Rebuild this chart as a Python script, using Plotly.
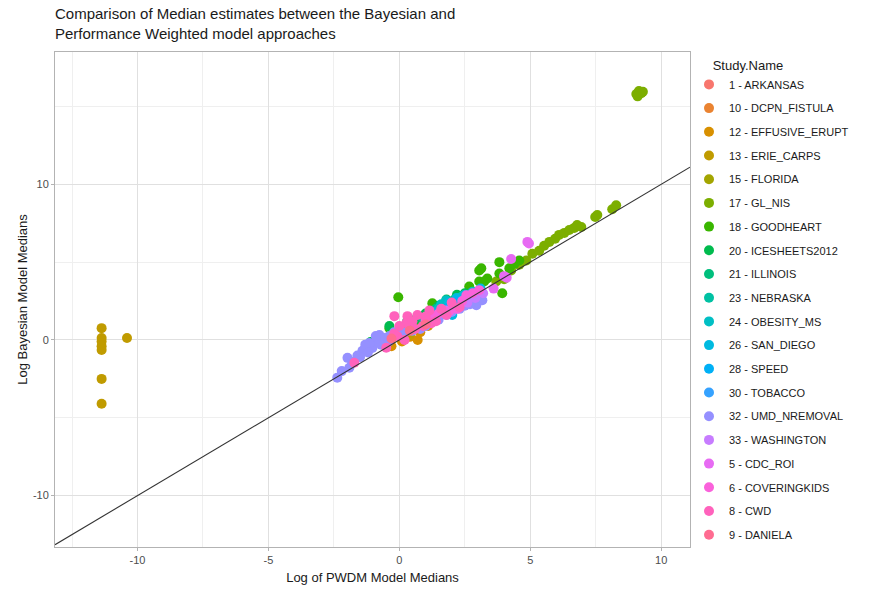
import plotly.graph_objects as go

# ---- data -----------------------------------------------------------------
studies = ["1 - ARKANSAS", "10 - DCPN_FISTULA", "12 - EFFUSIVE_ERUPT", "13 - ERIE_CARPS",
           "15 - FLORIDA", "17 - GL_NIS", "18 - GOODHEART", "20 - ICESHEETS2012",
           "21 - ILLINOIS", "23 - NEBRASKA", "24 - OBESITY_MS", "26 - SAN_DIEGO",
           "28 - SPEED", "30 - TOBACCO", "32 - UMD_NREMOVAL", "33 - WASHINGTON",
           "5 - CDC_ROI", "6 - COVERINGKIDS", "8 - CWD", "9 - DANIELA"]

colors = ["#F8766D", "#EA8331", "#D89000", "#C09B00", "#A3A500", "#7CAE00", "#39B600",
          "#00BB4E", "#00BF7D", "#00C1A3", "#00BFC4", "#00BAE0", "#00B0F6", "#35A2FF",
          "#9590FF", "#C77CFF", "#E76BF3", "#FA62DB", "#FF62BC", "#FF6C91"]

pwdm_x = {
    "1 - ARKANSAS": [0.9, 1.2, 0.5, 1.6, 2.0],
    "10 - DCPN_FISTULA": [0.6, 1.0, 0.3, 1.4],
    "12 - EFFUSIVE_ERUPT": [0.1, 0.4, 0.8, 0.0, 0.5, 1.1, -0.3, 0.2, 0.7],
    "13 - ERIE_CARPS": [-11.37, -11.37, -11.37, -11.37, -11.37, -11.37, -11.37, -10.4, 0.0, 0.4, -0.3],
    "15 - FLORIDA": [0.3, 0.8, 1.3],
    "17 - GL_NIS": [3.7, 4.0, 4.27, 4.58, 4.85, 5.08, 5.34, 5.53, 5.73, 5.95, 6.1, 6.3, 6.49,
                    6.68, 6.79, 6.95, 7.48, 7.56, 8.13, 8.28, 9.05, 9.15, 9.24, 9.1, 9.3],
    "18 - GOODHEART": [-0.04, 3.93, -0.38, -1.07, 3.13, 3.82, 3.36, 4.58, 1.26, 2.67, 3.05,
                       3.24, 3.05, 3.82, 4.2, 4.4],
    "20 - ICESHEETS2012": [-1.1, -0.38, 0.6, 1.5, 2.2, 1.0, 1.8, 2.5, 0.3],
    "21 - ILLINOIS": [0.9, 1.8, 2.4, 1.4, 2.1],
    "23 - NEBRASKA": [2.3, 1.7, 1.2],
    "24 - OBESITY_MS": [1.79, 2.0, 2.4, 1.5, 2.2, 1.6, 2.8],
    "26 - SAN_DIEGO": [2.18, 2.4, 2.02, 2.7, 1.6, 2.9, 1.3, 1.9, 2.5, 3.1],
    "28 - SPEED": [2.6, 1.9, 2.2, 3.0],
    "30 - TOBACCO": [1.3, 1.7, 2.5],
    "32 - UMD_NREMOVAL": [-2.37, -1.98, -1.91, -1.41, -1.03, -0.76, -0.57, -0.88, -0.38, -1.15,
                          -0.6, -0.2, 0.2, 1.5, 2.0, 2.5, 2.94, 3.17, 1.0, -1.6, -0.9, -1.3,
                          -2.2, -1.8, -1.5, -1.2, -0.7, -0.4, 0.0, 0.5, 0.8, 1.2, 1.8, 2.3, 2.7],
    "33 - WASHINGTON": [2.9, 3.2, 2.6, 1.8],
    "5 - CDC_ROI": [4.89, 4.95, 4.27, 4.0, 4.1, 3.6],
    "6 - COVERINGKIDS": [1.91, 2.56, 3.05, 1.5, 1.0, 2.2, 2.8, 2.4, 1.2],
    "8 - CWD": [-1.72, -0.19, 0.31, -0.08, 0.69, 1.15, 1.22, 0.27, 0.6, 1.4, 0.9, 1.8, 2.3, -0.5,
                0.0, 0.5, 1.0, 1.6, 2.0, 0.2, -0.2],
    "9 - DANIELA": [0.4, 1.0, -0.3],
}

bayes_y = {
    "1 - ARKANSAS": [1.3, 1.6, 0.8, 2.0, 2.2],
    "10 - DCPN_FISTULA": [0.7, 1.1, 0.5, 1.5],
    "12 - EFFUSIVE_ERUPT": [-0.1, 0.2, 0.5, 0.5, 0.9, 0.9, -0.4, 0.4, 0.0],
    "13 - ERIE_CARPS": [0.76, 0.13, -0.1, -0.4, -0.64, -2.5, -4.1, 0.13, 0.6, 0.3, 0.1],
    "15 - FLORIDA": [0.9, 1.2, 1.8],
    "17 - GL_NIS": [3.76, 3.9, 4.46, 4.84, 5.1, 5.54, 5.73, 6.05, 6.3, 6.5, 6.75, 6.88, 7.07,
                    7.2, 7.39, 7.26, 7.9, 8.03, 8.4, 8.66, 15.8, 16.0, 15.85, 15.65, 15.95],
    "18 - GOODHEART": [2.74, 3.0, 0.76, -0.19, 4.6, 5.0, 3.95, 5.1, 2.36, 3.44, 3.76,
                       3.76, 4.46, 4.27, 4.6, 4.9],
    "20 - ICESHEETS2012": [-0.13, 0.89, 1.3, 2.2, 2.9, 1.7, 2.6, 3.0, 1.2],
    "21 - ILLINOIS": [1.4, 2.3, 2.6, 2.0, 2.6],
    "23 - NEBRASKA": [2.1, 1.8, 1.5],
    "24 - OBESITY_MS": [2.55, 2.3, 2.8, 2.0, 2.7, 2.3, 3.1],
    "26 - SAN_DIEGO": [2.68, 2.23, 1.6, 2.9, 1.9, 3.0, 1.8, 2.4, 2.9, 3.3],
    "28 - SPEED": [2.7, 2.1, 2.5, 3.1],
    "30 - TOBACCO": [1.5, 1.7, 2.6],
    "32 - UMD_NREMOVAL": [-2.42, -1.15, -1.78, -0.7, -0.51, 0.32, 0.13, -0.06, 0.25, -0.19,
                          -0.2, 0.5, 0.5, 1.3, 1.8, 2.2, 2.23, 2.55, 0.9, -1.0, 0.25, -0.3,
                          -2.0, -1.4, -1.1, -0.8, -0.3, -0.1, 0.3, 0.6, 0.7, 1.1, 1.6, 2.0, 2.3],
    "33 - WASHINGTON": [2.7, 3.0, 2.4, 1.9],
    "5 - CDC_ROI": [6.3, 6.2, 5.2, 4.1, 4.0, 3.3],
    "6 - COVERINGKIDS": [1.85, 2.87, 3.2, 1.7, 1.3, 2.0, 3.0, 2.5, 1.5],
    "8 - CWD": [-1.46, 1.53, 1.53, 0.25, 1.6, 1.9, 1.08, 1.08, 0.7, 1.2, 0.9, 1.6, 2.1, -0.5,
                0.9, 1.2, 1.5, 2.0, 2.4, 0.0, 0.4],
    "9 - DANIELA": [0.6, 1.0, 0.1],
}

x_ticks = [-10, -5, 0, 5, 10]
y_ticks = [-10, 0, 10]
abline_intercept = 0.0
abline_slope = 1.0
x_range = [-13.15, 11.1]
y_range = [-13.3, 18.5]

title_text = ("Comparison of Median estimates between the Bayesian and<br>"
              "Performance Weighted model approaches")

# ---- figure ---------------------------------------------------------------
fig = go.Figure()

for name, col in zip(studies, colors):
    fig.add_trace(go.Scatter(
        x=pwdm_x[name], y=bayes_y[name], mode="markers", name=name,
        legendgroup=name,
        marker=dict(color=col, size=10, line=dict(width=0)),
    ))

# abline: y = intercept + slope * x across the full panel
fig.add_trace(go.Scatter(
    x=x_range,
    y=[abline_intercept + abline_slope * v for v in x_range],
    mode="lines", line=dict(color="#333333", width=1.1),
    showlegend=False, hoverinfo="skip",
))

L, R, T, B = 55, 187, 52, 45
plot_w = 877 - L - R
plot_h = 594 - T - B

fig.update_layout(
    width=877, height=594,
    margin=dict(l=L, r=R, t=T, b=B),
    paper_bgcolor="white", plot_bgcolor="white",
    font=dict(family="Liberation Sans, Arial, sans-serif", color="#4d4d4d"),
    legend=dict(
        title=dict(text="\u00a0" * 6 + "Study.Name", font=dict(size=13, color="#1a1a1a")),
        font=dict(size=11, color="#1a1a1a"),
        x=1 + (689 - (877 - R)) / plot_w, xanchor="left",
        y=1 - 1 / plot_h, yanchor="top",
        tracegroupgap=4.7,
        maxheight=585,
        bgcolor="rgba(0,0,0,0)",
    ),
    showlegend=True,
)

fig.add_annotation(
    text=title_text, xref="paper", yref="paper",
    x=-0.003, y=1 + 8 / plot_h, xanchor="left", yanchor="bottom", align="left",
    showarrow=False, font=dict(size=15, color="#1a1a1a"),
)

fig.update_xaxes(
    range=x_range, tickvals=x_ticks, ticktext=[str(t) for t in x_ticks],
    showgrid=True, gridcolor="#e0e0e0", gridwidth=1,
    minor=dict(dtick=2.5, tick0=0, showgrid=True, gridcolor="#efefef", gridwidth=0.6),
    zeroline=False, showline=True, linecolor="#b3b3b3", linewidth=1, mirror=True,
    ticks="outside", ticklen=3, tickcolor="#b3b3b3",
    tickfont=dict(size=11, color="#4d4d4d"),
    title=dict(text="Log of PWDM Model Medians", font=dict(size=13, color="#1a1a1a"), standoff=7),
)
fig.update_yaxes(
    range=y_range, tickvals=y_ticks, ticktext=[str(t) for t in y_ticks],
    showgrid=True, gridcolor="#e0e0e0", gridwidth=1,
    minor=dict(dtick=5, tick0=0, showgrid=True, gridcolor="#efefef", gridwidth=0.6),
    zeroline=False, showline=True, linecolor="#b3b3b3", linewidth=1, mirror=True,
    ticks="outside", ticklen=3, tickcolor="#b3b3b3",
    tickfont=dict(size=11, color="#4d4d4d"),
    title=dict(text="Log Bayesian Model Medians", font=dict(size=13, color="#1a1a1a"), standoff=2),
)

fig.write_html("out.html")
